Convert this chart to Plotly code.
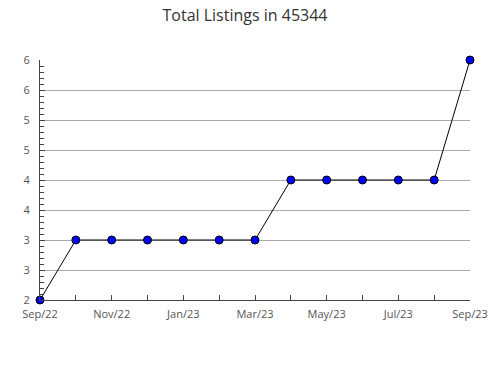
import plotly.graph_objects as go

months = ["Sep/22", "Oct/22", "Nov/22", "Dec/22", "Jan/23", "Feb/23", "Mar/23",
          "Apr/23", "May/23", "Jun/23", "Jul/23", "Aug/23", "Sep/23"]
listings = [2, 3, 3, 3, 3, 3, 3, 4, 4, 4, 4, 4, 6]
x_idx = list(range(len(months)))
x_tickvals = x_idx[::2]
x_ticktext = months[::2]
y_tickvals = [2, 2.5, 3, 3.5, 4, 4.5, 5, 5.5, 6]
y_ticktext = ["2", "3", "3", "4", "4", "5", "5", "6", "6"]

fig = go.Figure()
fig.add_trace(go.Scatter(
    x=x_idx, y=listings, mode="lines+markers",
    line=dict(color="black", width=1),
    marker=dict(symbol="circle", size=8, color="#0000ff", line=dict(color="black", width=1)),
    cliponaxis=False, hoverinfo="skip",
))

font = "Open Sans, DejaVu Sans, sans-serif"
fig.update_layout(
    width=490, height=380,
    margin=dict(l=40, r=20, t=60, b=80, autoexpand=False),
    paper_bgcolor="white", plot_bgcolor="white",
    showlegend=False,
    title=dict(text="Total Listings in 45344", x=0.5, xanchor="center", y=0.96, yanchor="middle",
               font=dict(family=font, size=16, color="#333333")),
    xaxis=dict(range=[0, 12], tickvals=x_tickvals, ticktext=x_ticktext, automargin=False,
               showgrid=False, zeroline=False, showline=True, linecolor="#444444", linewidth=1,
               ticks="inside", ticklen=5, tickcolor="#444444", ticklabelstandoff=4,
               minor=dict(dtick=1, ticks="inside", ticklen=5, tickcolor="#444444", showgrid=False),
               tickfont=dict(family=font, size=11, color="#555555")),
    yaxis=dict(range=[2, 6], tickvals=y_tickvals, ticktext=y_ticktext, automargin=False,
               showgrid=True, gridcolor="#aaaaaa", gridwidth=1, zeroline=False,
               showline=True, linecolor="#444444", linewidth=1,
               ticks="inside", ticklen=5, tickcolor="#444444", ticklabelstandoff=7,
               minor=dict(dtick=0.1, tick0=2, ticks="inside", ticklen=4, tickcolor="#444444", showgrid=False),
               tickfont=dict(family=font, size=11, color="#555555")),
)

fig.write_html("out.html")
